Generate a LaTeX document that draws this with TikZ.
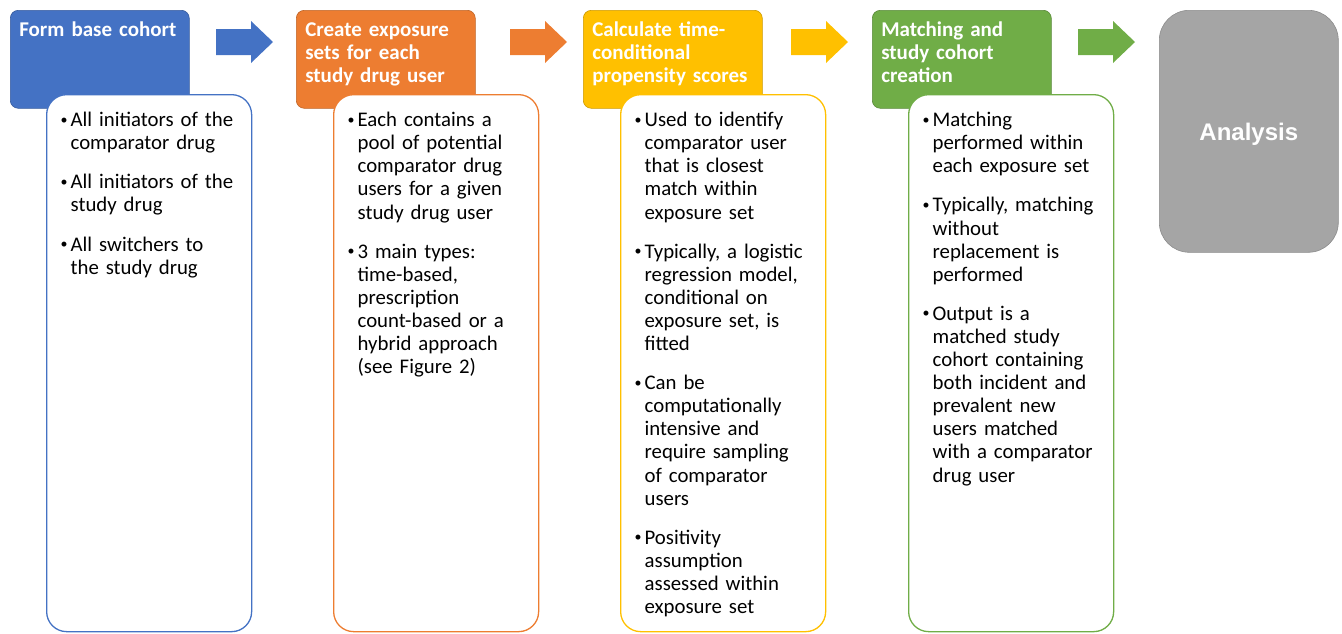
\documentclass[tikz,border=0pt]{standalone}
\usepackage{fontspec}
\setmainfont{Carlito}
\newfontfamily\arialfont{Liberation Sans}
\usetikzlibrary{calc}
\definecolor{cblue}{HTML}{4472C4}
\definecolor{corange}{HTML}{ED7D31}
\definecolor{cyellow}{HTML}{FFC000}
\definecolor{cgreen}{HTML}{70AD47}
\definecolor{cgray}{HTML}{A5A5A5}
\newcommand{\bitem}[1]{\hangindent=10pt\hangafter=1\noindent
	\hbox to 10pt{\raisebox{2.5pt}{\fontsize{14}{14}\selectfont\textbullet}\hss}#1\par}
\newcommand{\bgap}{\vspace{16pt}}

\begin{document}
\begin{tikzpicture}[x=1pt, y=-1pt,
	head/.style = {anchor=north west, rounded corners=8pt, fill=#1, draw=#1!80!black, line width=0.6pt,
		text=white, font=\bfseries\fontsize{21}{23.1}\selectfont, align=left,
		text width=161pt, inner xsep=9pt, inner ysep=10pt, text height=16pt, text depth=62pt},
	body/.style = {anchor=north west, rounded corners=20pt, fill=white, draw=#1, line width=1.3pt,
		font=\fontsize{20.8}{23.1}\selectfont, align=left,
		text width=177pt, inner xsep=14pt, inner ysep=16pt, text height=16pt, text depth=489pt},
	blockarrow/.style = {fill=#1}]
	\useasboundingbox (0,0) rectangle (1342,633);

	% step headers
	\node[head=cblue] (H1) at (10,10) {Form base cohort};
	\node[head=corange] (H2) at (296,10) {Create exposure\\sets for each\\study drug user};
	\node[head=cyellow] (H3) at (583,10) {Calculate time-\\conditional\\propensity scores};
	\node[head=cgreen] (H4) at (872,10) {Matching and\\study cohort\\creation};
	\node[anchor=north west, rounded corners=30pt, fill=cgray, draw=cgray!85!black, line width=0.6pt,
		minimum width=179pt, minimum height=242pt, text depth=0pt, text=white,
		font=\arialfont\bfseries\fontsize{24}{28}\selectfont]
		(A) at (1159,10) {Analysis};

	% block arrows between the steps
	\foreach \x/\c in {216/cblue, 510/corange, 791/cyellow, 1078/cgreen}
		\fill[blockarrow=\c] (\x,29) -- ++(35,0) -- ++(0,-8) -- ++(22,21) -- ++(-22,21) -- ++(0,-8) -- ++(-35,0) -- cycle;

	% step contents
	\node[body=cblue] (B1) at (46,94) {%
		\bitem{All initiators of the\newline comparator drug}\bgap
		\bitem{All initiators of the\newline study drug}\bgap
		\bitem{All switchers to\newline the study drug}};
	\node[body=corange] (B2) at (333,94) {%
		\bitem{Each contains a\newline pool of potential\newline comparator drug\newline users for a given\newline study drug user}\bgap
		\bitem{3 main types:\newline time-based,\newline prescription\newline count-based or a\newline hybrid approach\newline (see Figure 2)}};
	\node[body=cyellow] (B3) at (620,94) {%
		\bitem{Used to identify\newline comparator user\newline that is closest\newline match within\newline exposure set}\bgap
		\bitem{Typically, a logistic\newline regression model,\newline conditional on\newline exposure set, is\newline fitted}\bgap
		\bitem{Can be\newline computationally\newline intensive and\newline require sampling\newline of comparator\newline users}\bgap
		\bitem{Positivity\newline assumption\newline assessed within\newline exposure set}};
	\node[body=cgreen] (B4) at (908,94) {%
		\bitem{Matching\newline performed within\newline each exposure set}\bgap
		\bitem{Typically, matching\newline without\newline replacement is\newline performed}\bgap
		\bitem{Output is a\newline matched study\newline cohort containing\newline both incident and\newline prevalent new\newline users matched\newline with a comparator\newline drug user}};
\end{tikzpicture}
\end{document}
